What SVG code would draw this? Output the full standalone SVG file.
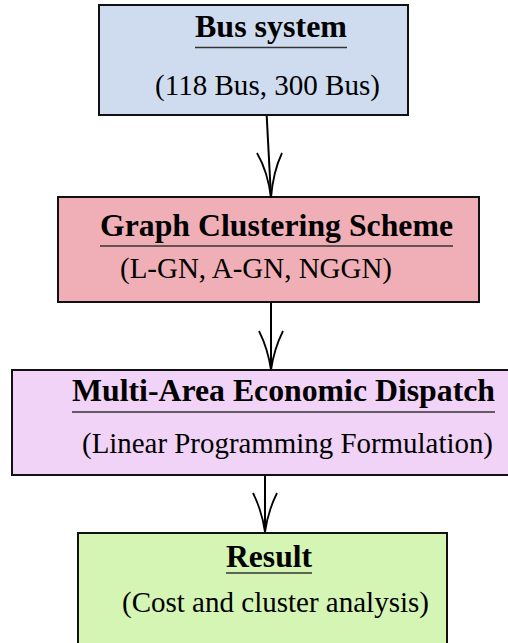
<svg xmlns="http://www.w3.org/2000/svg" width="508" height="643" viewBox="0 0 508 643">
<style>
.box{stroke:#111;stroke-width:2}
.t{font-family:"Liberation Serif","Times New Roman",serif;font-weight:bold;font-size:31px;fill:#000}
.s{font-family:"Liberation Serif","Times New Roman",serif;font-size:29px;fill:#000}
.ul{stroke:#333;stroke-width:1.5}
.edge{fill:none;stroke:#000;stroke-width:2}
.head{fill:none;stroke:#000;stroke-width:1.8;stroke-linejoin:miter}
</style>
<rect width="508" height="643" fill="#fff"/>
<g id="n1">
<rect class="box" x="99" y="5" width="309" height="110" fill="#cfdcef"/>
<text class="t" x="195" y="37" textLength="152" lengthAdjust="spacingAndGlyphs">Bus system</text>
<line class="ul" x1="195" y1="47.5" x2="347" y2="47.5"/>
<text class="s" x="155" y="95" textLength="225" lengthAdjust="spacingAndGlyphs">(118 Bus, 300 Bus)</text>
</g>
<g id="n2">
<rect class="box" x="58" y="197" width="421" height="105" fill="#f0afb6"/>
<text class="t" x="100" y="236" textLength="353" lengthAdjust="spacingAndGlyphs">Graph Clustering Scheme</text>
<line class="ul" x1="100" y1="246" x2="453" y2="246"/>
<text class="s" x="120" y="278" textLength="272" lengthAdjust="spacingAndGlyphs">(L-GN, A-GN, NGGN)</text>
</g>
<g id="n3">
<rect class="box" x="12" y="370" width="500" height="105" fill="#f0d3f6"/>
<text class="t" x="72" y="401" textLength="423" lengthAdjust="spacingAndGlyphs">Multi-Area Economic Dispatch</text>
<line class="ul" x1="72" y1="412" x2="495" y2="412"/>
<text class="s" x="82" y="453" textLength="411" lengthAdjust="spacingAndGlyphs">(Linear Programming Formulation)</text>
</g>
<g id="n4">
<rect class="box" x="78" y="533" width="369" height="112" fill="#d5f5b5"/>
<text class="t" x="226" y="567" textLength="86" lengthAdjust="spacingAndGlyphs">Result</text>
<line class="ul" x1="226" y1="573" x2="312" y2="573"/>
<text class="s" x="122" y="612" textLength="307" lengthAdjust="spacingAndGlyphs">(Cost and cluster analysis)</text>
</g>
<g id="connectors">
<path class="edge" d="M266.7 116 L271 197"/>
<path class="head" d="M257 153 Q268 172 271 198 Q273 172 282 153"/>
<path class="edge" d="M271 303 L271 369"/>
<path class="head" d="M259 331 Q268 349 271 370 Q274 349 283 331"/>
<path class="edge" d="M265 476 L265 531"/>
<path class="head" d="M253 493 Q262 511 265 532 Q268 511 277 493"/>
</g>
</svg>
